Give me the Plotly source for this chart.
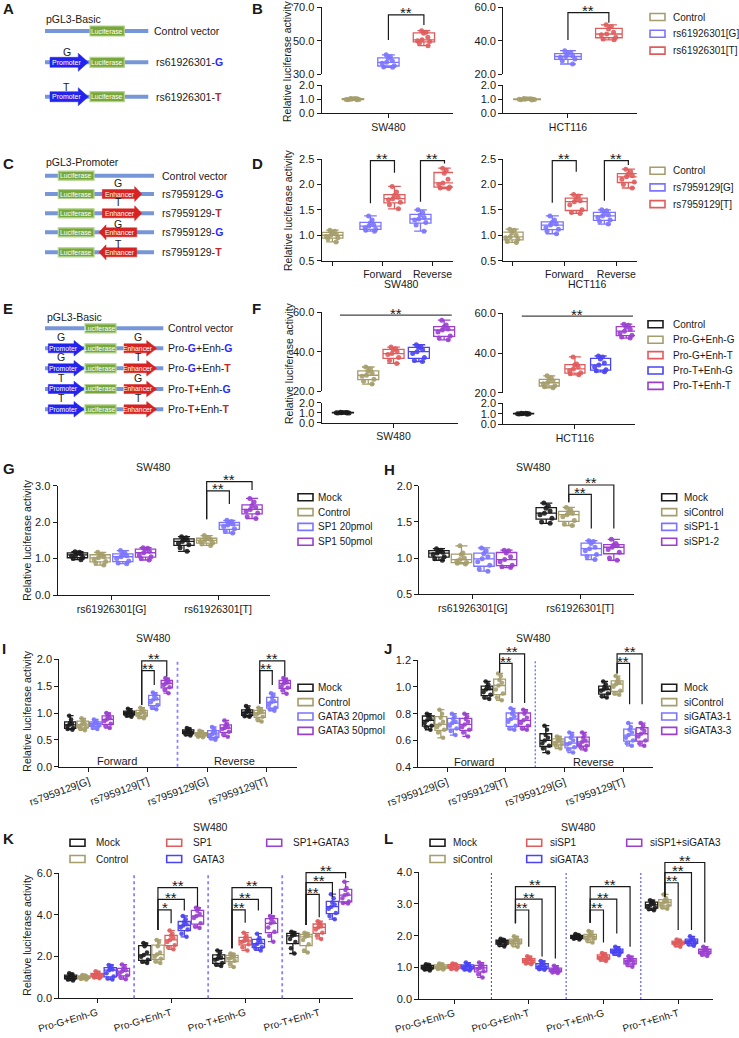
import plotly.graph_objects as go

W, H = 739, 1038

# ======================= DATA =======================
# ---- Panel B (rs61926301 promoter, SW480 / HCT116) ----
B_groups = ["Control", "rs61926301[G]", "rs61926301[T]"]
B_SW480_control = [0.95, 0.97, 1.0, 1.02, 1.05, 0.98, 1.03, 0.96, 1.04]
B_SW480_G = [41.5, 40.3, 39.5, 38.0, 37.0, 36.5, 35.0, 34.2, 34.0]
B_SW480_T = [56, 55, 54.5, 52, 50.5, 50, 49.5, 48.5, 47]
B_HCT116_control = [0.96, 0.99, 1.01, 1.03, 0.97, 1.0, 1.05, 0.94, 1.02]
B_HCT116_G = [34, 33, 32, 31, 30.5, 30, 29, 28, 26]
B_HCT116_T = [49.5, 48.5, 47, 45, 44, 43.5, 42, 41, 40.5]

# ---- Panel D (rs7959129 enhancer) ----
D_groups = ["Control", "rs7959129[G]", "rs7959129[T]"]
D_orient = ["", "Forward", "Reverse"]
D_SW480_control = [1.1, 1.08, 1.05, 1.02, 1.0, 0.98, 0.95, 0.93, 0.87]
D_SW480_G = [[1.38, 1.3, 1.24, 1.2, 1.18, 1.15, 1.12, 1.1, 1.08], [1.5, 1.45, 1.4, 1.35, 1.32, 1.3, 1.25, 1.2, 1.08]]
D_SW480_T = [[1.96, 1.85, 1.78, 1.75, 1.72, 1.7, 1.65, 1.6, 1.52], [2.32, 2.28, 2.22, 2.1, 2.03, 2.0, 1.95, 1.93, 1.92]]
D_HCT116_control = [1.12, 1.1, 1.05, 1.0, 0.97, 0.95, 0.92, 0.88, 0.86]
D_HCT116_G = [[1.38, 1.3, 1.25, 1.22, 1.2, 1.15, 1.12, 1.08, 1.03], [1.5, 1.48, 1.44, 1.4, 1.38, 1.35, 1.3, 1.27, 1.22]]
D_HCT116_T = [[1.8, 1.77, 1.72, 1.68, 1.66, 1.6, 1.5, 1.45, 1.43], [2.3, 2.25, 2.2, 2.17, 2.15, 2.1, 2.05, 2.0, 1.93]]

# ---- Panel F (promoter + enhancer combos) ----
F_groups = ["Control", "Pro-G+Enh-G", "Pro-G+Enh-T", "Pro-T+Enh-G", "Pro-T+Enh-T"]
F_SW480 = [[1.02, 0.98, 1.0, 1.04, 0.96, 1.01, 0.99, 1.03, 0.97],
           [32.2, 31, 30, 29, 28, 27.5, 26, 25, 23.5],
           [42.3, 41.5, 41, 40, 39, 38.5, 37, 35.5, 34],
           [43.5, 42.5, 42, 41, 40, 39, 37, 35.5, 35],
           [56, 53.5, 52.5, 51.5, 51, 50, 48, 47, 46]]
F_HCT116 = [[1.0, 0.97, 1.03, 0.99, 1.02, 0.95, 1.01, 0.98, 1.04],
            [28.5, 27.5, 26.5, 26, 25, 24.5, 23.5, 23, 22.5],
            [38, 34.5, 34, 33, 32, 31, 30, 29.5, 29],
            [38.5, 38, 37, 35, 34, 33, 31.5, 31, 30.5],
            [54.5, 54, 53, 52, 51, 50, 49, 48, 47.5]]

# ---- Panel G (SP1 overexpression) ----
G_categories = ["rs61926301[G]", "rs61926301[T]"]
G_series = ["Mock", "Control", "SP1 20pmol", "SP1 50pmol"]
G_mock = [[1.19, 1.17, 1.15, 1.12, 1.1, 1.07, 1.03, 1.0, 0.97], [1.6, 1.57, 1.53, 1.5, 1.47, 1.42, 1.38, 1.3, 1.2]]
G_control = [[1.17, 1.12, 1.1, 1.05, 1.02, 0.98, 0.92, 0.88, 0.82], [1.63, 1.58, 1.55, 1.52, 1.5, 1.47, 1.43, 1.4, 1.36]]
G_sp1_20 = [[1.22, 1.15, 1.12, 1.08, 1.05, 1.0, 0.93, 0.88, 0.86], [2.05, 2.02, 1.98, 1.95, 1.92, 1.88, 1.82, 1.75, 1.7]]
G_sp1_50 = [[1.3, 1.28, 1.25, 1.2, 1.16, 1.1, 1.05, 1.0, 0.96], [2.65, 2.55, 2.45, 2.4, 2.35, 2.3, 2.25, 2.15, 2.1]]

# ---- Panel H (SP1 knockdown) ----
H_categories = ["rs61926301[G]", "rs61926301[T]"]
H_series = ["Mock", "siControl", "siSP1-1", "siSP1-2"]
H_mock = [[1.13, 1.11, 1.1, 1.08, 1.07, 1.05, 1.02, 0.99, 0.97], [1.76, 1.72, 1.69, 1.65, 1.62, 1.6, 1.55, 1.5, 1.48]]
H_sicontrol = [[1.17, 1.07, 1.05, 1.0, 0.98, 0.96, 0.94, 0.93, 0.92], [1.7, 1.66, 1.64, 1.62, 1.6, 1.57, 1.52, 1.47, 1.45]]
H_sisp1_1 = [[1.14, 1.1, 1.06, 1.02, 0.99, 0.95, 0.9, 0.85, 0.82], [1.24, 1.23, 1.2, 1.15, 1.13, 1.1, 1.05, 1.02, 0.98]]
H_sisp1_2 = [[1.11, 1.1, 1.07, 1.02, 0.98, 0.95, 0.9, 0.88, 0.87], [1.26, 1.2, 1.18, 1.17, 1.15, 1.12, 1.08, 1.0, 0.97]]

# ---- Panel I (GATA3 overexpression) ----
I_categories = ["rs7959129[G]", "rs7959129[T]", "rs7959129[G]", "rs7959129[T]"]
I_series = ["Mock", "Control", "GATA3 20pmol", "GATA3 50pmol"]
I_mock = [[0.95, 0.88, 0.82, 0.8, 0.78, 0.76, 0.72, 0.7, 0.69], [1.08, 1.05, 1.03, 1.01, 1.0, 0.99, 0.97, 0.95, 0.93],
          [0.72, 0.7, 0.68, 0.66, 0.65, 0.64, 0.62, 0.6, 0.58], [1.13, 1.08, 1.05, 1.03, 1.01, 0.99, 0.96, 0.94, 0.93]]
I_control = [[0.9, 0.87, 0.84, 0.8, 0.78, 0.76, 0.73, 0.7, 0.68], [1.1, 1.07, 1.04, 1.02, 1.0, 0.98, 0.95, 0.92, 0.9],
             [0.67, 0.65, 0.63, 0.62, 0.61, 0.6, 0.58, 0.56, 0.55], [1.1, 1.07, 1.04, 1.02, 1.0, 0.97, 0.93, 0.88, 0.84]]
I_gata3_20 = [[0.88, 0.85, 0.83, 0.81, 0.8, 0.78, 0.76, 0.72, 0.7], [1.38, 1.35, 1.32, 1.27, 1.25, 1.2, 1.15, 1.1, 1.07],
              [0.74, 0.7, 0.66, 0.63, 0.61, 0.58, 0.55, 0.53, 0.5], [1.37, 1.33, 1.28, 1.22, 1.2, 1.15, 1.1, 1.07, 1.04]]
I_gata3_50 = [[1.0, 0.97, 0.94, 0.9, 0.88, 0.85, 0.8, 0.76, 0.72], [1.65, 1.62, 1.6, 1.57, 1.55, 1.52, 1.48, 1.43, 1.37],
              [0.86, 0.8, 0.77, 0.74, 0.72, 0.7, 0.65, 0.6, 0.56], [1.65, 1.62, 1.6, 1.57, 1.55, 1.5, 1.47, 1.42, 1.36]]

# ---- Panel J (GATA3 knockdown) ----
J_categories = ["rs7959129[G]", "rs7959129[T]", "rs7959129[G]", "rs7959129[T]"]
J_series = ["Mock", "siControl", "siGATA3-1", "siGATA3-3"]
J_mock = [[0.8, 0.79, 0.78, 0.76, 0.75, 0.73, 0.71, 0.7, 0.68], [1.04, 1.02, 1.0, 0.99, 0.98, 0.96, 0.94, 0.92, 0.91],
          [0.71, 0.68, 0.64, 0.62, 0.6, 0.58, 0.56, 0.54, 0.51], [1.04, 1.02, 1.0, 0.99, 0.98, 0.97, 0.95, 0.93, 0.92]]
J_sicontrol = [[0.83, 0.8, 0.77, 0.74, 0.72, 0.7, 0.68, 0.66, 0.62], [1.1, 1.08, 1.05, 1.03, 1.01, 0.98, 0.95, 0.92, 0.9],
               [0.63, 0.62, 0.61, 0.6, 0.59, 0.58, 0.57, 0.56, 0.54], [1.08, 1.06, 1.04, 1.03, 1.02, 1.0, 0.97, 0.95, 0.94]]
J_sigata3_1 = [[0.8, 0.78, 0.76, 0.74, 0.73, 0.71, 0.69, 0.67, 0.64], [0.84, 0.82, 0.8, 0.78, 0.76, 0.74, 0.71, 0.69, 0.68],
               [0.66, 0.64, 0.62, 0.6, 0.58, 0.57, 0.55, 0.53, 0.51], [0.73, 0.7, 0.68, 0.66, 0.64, 0.62, 0.6, 0.58, 0.56]]
J_sigata3_3 = [[0.8, 0.78, 0.76, 0.74, 0.72, 0.7, 0.68, 0.66, 0.63], [0.83, 0.82, 0.8, 0.77, 0.75, 0.73, 0.71, 0.69, 0.68],
               [0.66, 0.64, 0.62, 0.6, 0.59, 0.57, 0.56, 0.55, 0.53], [0.73, 0.71, 0.69, 0.67, 0.65, 0.63, 0.6, 0.58, 0.56]]

# ---- Panel K (SP1 / GATA3 overexpression) ----
K_categories = ["Pro-G+Enh-G", "Pro-G+Enh-T", "Pro-T+Enh-G", "Pro-T+Enh-T"]
K_series = ["Mock", "Control", "SP1", "GATA3", "SP1+GATA3"]
K_mock = [[1.2, 1.15, 1.1, 1.06, 1.04, 1.0, 0.95, 0.9, 0.85], [2.65, 2.6, 2.5, 2.2, 2.08, 2.0, 1.85, 1.75, 1.7],
          [2.3, 2.2, 2.05, 1.95, 1.9, 1.85, 1.7, 1.62, 1.55], [3.2, 3.15, 3.1, 3.05, 3.0, 2.85, 2.7, 2.4, 2.15]]
K_control = [[1.12, 1.1, 1.06, 1.03, 1.0, 0.98, 0.96, 0.93, 0.9], [2.8, 2.7, 2.5, 2.2, 2.1, 2.0, 1.9, 1.78, 1.7],
             [2.15, 2.1, 2.05, 2.0, 1.95, 1.9, 1.8, 1.65, 1.5], [3.15, 3.1, 3.05, 3.0, 2.95, 2.8, 2.6, 2.3, 2.2]]
K_sp1 = [[1.3, 1.22, 1.18, 1.14, 1.12, 1.08, 1.04, 1.0, 0.96], [3.25, 3.1, 3.0, 2.9, 2.8, 2.7, 2.55, 2.45, 2.35],
         [3.15, 3.0, 2.9, 2.8, 2.75, 2.7, 2.6, 2.45, 2.3], [3.7, 3.62, 3.55, 3.45, 3.4, 3.3, 3.15, 3.0, 2.85]]
K_gata3 = [[1.6, 1.55, 1.45, 1.38, 1.35, 1.2, 1.05, 0.95, 0.9], [3.95, 3.8, 3.65, 3.55, 3.5, 3.4, 3.3, 3.1, 2.95],
           [3.1, 2.9, 2.8, 2.7, 2.62, 2.55, 2.45, 2.38, 2.3], [5.0, 4.8, 4.6, 4.5, 4.4, 4.3, 4.1, 3.95, 3.8]]
K_sp1_gata3 = [[1.62, 1.5, 1.42, 1.35, 1.3, 1.2, 1.1, 1.0, 0.92], [4.35, 4.3, 4.2, 4.05, 3.95, 3.85, 3.6, 3.45, 3.38],
               [3.95, 3.9, 3.8, 3.65, 3.6, 3.4, 3.2, 3.0, 2.72], [5.6, 5.3, 5.2, 5.0, 4.95, 4.8, 4.65, 4.58, 4.55]]

# ---- Panel L (SP1 / GATA3 knockdown) ----
L_categories = ["Pro-G+Enh-G", "Pro-G+Enh-T", "Pro-T+Enh-G", "Pro-T+Enh-T"]
L_series = ["Mock", "siControl", "siSP1", "siGATA3", "siSP1+siGATA3"]
L_mock = [[1.1, 1.08, 1.05, 1.02, 1.0, 0.98, 0.96, 0.93, 0.9], [1.9, 1.87, 1.85, 1.82, 1.8, 1.77, 1.74, 1.7, 1.66],
          [2.05, 2.02, 2.0, 1.98, 1.96, 1.94, 1.92, 1.9, 1.88], [3.12, 3.08, 3.05, 3.0, 2.97, 2.93, 2.88, 2.83, 2.8]]
L_sicontrol = [[1.12, 1.1, 1.07, 1.04, 1.02, 1.0, 0.97, 0.95, 0.93], [1.98, 1.93, 1.88, 1.85, 1.83, 1.8, 1.76, 1.72, 1.65],
               [2.15, 2.08, 2.03, 2.0, 1.97, 1.94, 1.9, 1.85, 1.78], [3.3, 3.18, 3.12, 3.08, 3.05, 3.0, 2.95, 2.9, 2.85]]
L_sisp1 = [[1.12, 1.1, 1.08, 1.05, 1.03, 1.0, 0.98, 0.95, 0.93], [1.35, 1.3, 1.27, 1.24, 1.22, 1.2, 1.16, 1.12, 1.1],
           [1.45, 1.42, 1.38, 1.35, 1.32, 1.3, 1.27, 1.24, 1.2], [1.88, 1.85, 1.82, 1.8, 1.78, 1.76, 1.74, 1.7, 1.65]]
L_sigata3 = [[1.15, 1.1, 1.07, 1.04, 1.02, 1.0, 0.96, 0.93, 0.9], [1.2, 1.15, 1.1, 1.06, 1.03, 1.0, 0.97, 0.94, 0.92],
             [1.65, 1.6, 1.57, 1.55, 1.52, 1.5, 1.47, 1.43, 1.38], [1.98, 1.92, 1.88, 1.85, 1.83, 1.8, 1.77, 1.73, 1.68]]
L_sisp1_sigata3 = [[1.15, 1.1, 1.05, 1.0, 0.98, 0.95, 0.88, 0.78, 0.68], [1.05, 1.0, 0.97, 0.94, 0.92, 0.9, 0.87, 0.84, 0.82],
                   [1.35, 1.3, 1.26, 1.22, 1.2, 1.17, 1.12, 1.08, 1.02], [1.65, 1.6, 1.56, 1.52, 1.5, 1.47, 1.44, 1.4, 1.36]]

# ---- axis tick values ----
B_low_ticks = [0, 1, 2]
B_SW480_up_ticks = [30, 50, 70]
B_HCT116_up_ticks = [20, 40, 60]
D_ticks = [0.5, 1.0, 1.5, 2.0, 2.5]
F_low_ticks = [0, 1, 2]
F_up_ticks = [20, 40, 60]
G_ticks = [0, 1, 2, 3]
H_ticks = [0.5, 1.0, 1.5, 2.0]
I_ticks = [0, 0.5, 1.0, 1.5, 2.0]
J_ticks = [0.4, 0.6, 0.8, 1.0, 1.2]
K_ticks = [0, 2, 4, 6]
L_ticks = [0, 1, 2, 3, 4]

# ======================= STYLE / HELPERS =======================
FONT = "Liberation Sans, Arial, sans-serif"
INK = "#1a1a1a"
BLACK = "#1c1c1c"
OLIVE = "#a59d6b"
LBLUE = "#7b74ff"
BLUE = "#4a44f2"
RED = "#e05c5c"
PURPLE = "#9b3fd0"
ALLELE_G = "#2a2aff"
ALLELE_T = "#c0282a"


def px(x):
    return x / W


def py(y):
    return 1 - y / H


fig = go.Figure()
layout = dict(width=W, height=H, margin=dict(l=0, r=0, t=0, b=0, pad=0, autoexpand=False), autosize=False,
              paper_bgcolor="white", plot_bgcolor="rgba(0,0,0,0)", showlegend=False,
              font=dict(family=FONT, color=INK), boxmode="overlay")
shapes = []
annotations = []
cnt = {"x": 0, "y": 0}


def nid(letter):
    cnt[letter] += 1
    n = cnt[letter]
    s = "" if n == 1 else str(n)
    return letter + "axis" + s, letter + s


AX = dict(showline=True, linecolor=INK, linewidth=1.2, ticks="outside", ticklen=4, tickwidth=1.2,
          tickcolor=INK, showgrid=False, zeroline=False, fixedrange=True, automargin=False)


def make_plot(left, right, segments, xrange, xtickvals, xticktext, tickangle=0, xfont=10.5):
    xname, xid = nid("x")
    ys = []
    for top, bottom, yr, yt in segments:
        yname, yid = nid("y")
        ys.append((yid, yr))
        layout[yname] = dict(AX, domain=[py(bottom), py(top)], range=[yr[0] - 1e-6, yr[1] + 1e-6],
                             tickmode="array", tickvals=yt, ticktext=[f"{v:.1f}" for v in yt],
                             anchor=xid, type="linear", tickfont=dict(size=11, color=INK))
    layout[xname] = dict(AX, domain=[px(left), px(right)], range=xrange, anchor=ys[0][0], type="linear",
                         tickmode="array", tickvals=xtickvals, ticktext=xticktext, tickangle=tickangle,
                         tickfont=dict(size=xfont, color=INK))
    return xid, ys


def box(xid, yid, pos, vals, color, width, msize=5):
    fig.add_trace(go.Box(x=[pos] * len(vals), y=vals, xaxis=xid, yaxis=yid, width=width,
                         boxpoints="all", pointpos=0, jitter=0.75, whiskerwidth=0.6,
                         marker=dict(color=color, size=msize, opacity=0.9, line=dict(width=0)),
                         line=dict(color=color, width=1.3), fillcolor="rgba(255,255,255,0)",
                         showlegend=False, hoverinfo="y"))


def gpos(ci, k, n, step):
    return ci + (k - (n - 1) / 2) * step


def grouped(xid, yid, series_vals, colors, step, width, msize=5):
    n = len(series_vals)
    for k, (vals, col) in enumerate(zip(series_vals, colors)):
        for ci, v in enumerate(vals):
            box(xid, yid, gpos(ci, k, n, step), v, col, width, msize)


def dom(v, yr):
    return (v - yr[0]) / (yr[1] - yr[0])


def bracket(xid, yax, x1, x2, top, leg1, leg2, label="**"):
    yid, yr = yax
    path = (f"M{x1},{dom(leg1, yr)} L{x1},{dom(top, yr)} L{x2},{dom(top, yr)} L{x2},{dom(leg2, yr)}")
    shapes.append(dict(type="path", path=path, xref=xid, yref=f"{yid} domain",
                       line=dict(color=INK, width=1.2)))
    annotations.append(dict(x=(x1 + x2) / 2, y=dom(top, yr), xref=xid, yref=f"{yid} domain", text=label,
                            showarrow=False, yanchor="middle", yshift=2, borderpad=0,
                            font=dict(size=15, color=INK)))


def hline_data(xid, yax, x1, x2, yv, label="**"):
    yid, yr = yax
    shapes.append(dict(type="line", xref=xid, yref=f"{yid} domain", x0=x1, x1=x2,
                       y0=dom(yv, yr), y1=dom(yv, yr), line=dict(color="#444", width=1.3)))
    annotations.append(dict(x=(x1 + x2) / 2, y=dom(yv, yr), xref=xid, yref=f"{yid} domain", text=label,
                            showarrow=False, yanchor="middle", yshift=2, borderpad=0,
                            font=dict(size=15, color=INK)))


def divider(xid, yid, xv, color, dash, width=1.4):
    shapes.append(dict(type="line", xref=xid, yref=f"{yid} domain", x0=xv, x1=xv, y0=0, y1=1,
                       line=dict(color=color, width=width, dash=dash)))


def txt(x, y, s, size=10.5, color=INK, xanchor="left", yanchor="middle", angle=0):
    annotations.append(dict(x=px(x), y=py(y), xref="paper", yref="paper", text=s, showarrow=False,
                            xanchor=xanchor, yanchor=yanchor, textangle=angle, borderpad=0,
                            font=dict(size=size, color=color, family=FONT)))


def legend_item(xs, y, name, color, xt):
    shapes.append(dict(type="rect", xref="paper", yref="paper", x0=px(xs), x1=px(xs + 15),
                       y0=py(y + 3.5), y1=py(y - 3.5), line=dict(color=color, width=1.6),
                       fillcolor="rgba(0,0,0,0)"))
    txt(xt, y, name, size=10)


def vlegend(names, colors, xs, y0, dy, xt):
    for i, (nm, c) in enumerate(zip(names, colors)):
        legend_item(xs, y0 + i * dy, nm, c, xt)


def letter(x, y, s):
    txt(x, y, f"<b>{s}</b>", size=15, xanchor="left")


def ytitle(x, y):
    txt(x, y, "Relative luciferase activity", size=10.5, xanchor="center", angle=-90)


# ---- schematic helpers ----
LINE_C = "#7796d8"
LUC_F = "#78a83c"
LUC_L = "#b3d38e"
PRO_C = "#2323ee"
ENH_C = "#d82323"


def dna(x0, x1, y):
    shapes.append(dict(type="line", xref="paper", yref="paper", x0=px(x0), x1=px(x1), y0=py(y), y1=py(y),
                       line=dict(color=LINE_C, width=4)))


def luc(x0, x1, y, h=10):
    shapes.append(dict(type="rect", xref="paper", yref="paper", x0=px(x0), x1=px(x1),
                       y0=py(y + h / 2), y1=py(y - h / 2), fillcolor=LUC_F, line=dict(color=LUC_L, width=1.2)))
    txt((x0 + x1) / 2, y, "Luciferase", size=6.8, color="white", xanchor="center")


def arrow(x0, x1, y, color, label, direction=1, hb=5, hh=9, hl=10, fs=7):
    if direction > 0:
        n = x1 - hl
        pts = [(x0, y - hb), (n, y - hb), (n, y - hh), (x1, y), (n, y + hh), (n, y + hb), (x0, y + hb)]
        cx = (x0 + x1) / 2 - 2.5
    else:
        n = x0 + hl
        pts = [(x1, y - hb), (n, y - hb), (n, y - hh), (x0, y), (n, y + hh), (n, y + hb), (x1, y + hb)]
        cx = (x0 + x1) / 2 + 2.5
    path = "M" + " L".join(f"{px(a):.5f},{py(b):.5f}" for a, b in pts) + " Z"
    shapes.append(dict(type="path", path=path, xref="paper", yref="paper", fillcolor=color,
                       line=dict(color=color, width=0.5)))
    txt(cx, y, label, size=fs, color="white", xanchor="center")


def allele(a):
    c = ALLELE_G if a == "G" else ALLELE_T
    return f"<b><span style='color:{c}'>{a}</span></b>"


# ======================= SCHEMATIC A =======================
letter(2, 9, "A")
txt(45, 19.3, "pGL3-Basic")
dna(45, 148.3, 31)
luc(90, 124.3, 31)
txt(153.3, 31, "Control vector")
for y, a in [(62.3, "G"), (96.7, "T")]:
    dna(45, 148.3, y)
    arrow(50, 88.3, y, PRO_C, "Promoter")
    luc(90, 124.3, y)
    txt(66.7, y - 10, a, xanchor="center")
    txt(155, y, "rs61926301-" + allele(a))

# ======================= SCHEMATIC C =======================
letter(2, 163, "C")
txt(45, 162.3, "pGL3-Promoter")
dna(45, 154, 175.7)
luc(58.3, 94, 175.7, h=9)
txt(160.7, 175.7, "Control vector")
for y, a, d, dy in [(194, "G", 1, 11.3), (213.3, "T", 1, 11), (232.3, "G", -1, 8.5), (252.3, "T", -1, 8.5)]:
    dna(45, 154, y)
    luc(58.3, 94, y, h=9)
    if d > 0:
        arrow(102.3, 141.7, y, ENH_C, "Enhancer", 1, hb=4.5, hh=7.5, hl=7, fs=6.8)
    else:
        arrow(99, 136.7, y, ENH_C, "Enhancer", -1, hb=4.5, hh=7.5, hl=7, fs=6.8)
    txt(118.3, y - dy, a, xanchor="center")
    txt(160.7, y, "rs7959129-" + allele(a))

# ======================= SCHEMATIC E =======================
letter(2, 309, "E")
txt(45.7, 317.3, "pGL3-Basic")
dna(45, 163.3, 328.3)
luc(85, 116, 328.3, h=9)
txt(166.7, 328.3, "Control vector")
for y, pa, ea in [(348.3, "G", "G"), (368.3, "G", "T"), (389, "T", "G"), (409.3, "T", "T")]:
    dna(45, 163.3, y)
    arrow(48.3, 84, y, PRO_C, "Promoter", 1, hb=4.5, hh=7.8, hl=10, fs=6.8)
    luc(85, 116, y, h=9)
    arrow(124, 156.7, y, ENH_C, "Enhancer", 1, hb=4.5, hh=7.8, hl=10, fs=6.8)
    txt(61, y - 11, pa, xanchor="center")
    txt(138.3, y - 11, ea, xanchor="center")
    txt(166.7, y, "Pro-" + allele(pa) + "+Enh-" + allele(ea))

# ======================= PANEL B =======================
letter(251, 9, "B")
ytitle(287, 61)
xid, ys = make_plot(321.7, 453, [(85, 113.3, [0, 2], B_low_ticks), (7.3, 74, [30, 70], B_SW480_up_ticks)],
                    [-0.88, 2.82], [1], ["SW480"])
box(xid, ys[0][0], 0, B_SW480_control, OLIVE, 0.6)
box(xid, ys[1][0], 1, B_SW480_G, LBLUE, 0.6)
box(xid, ys[1][0], 2, B_SW480_T, RED, 0.6)
bracket(xid, ys[1], 1, 2, 65.4, 50.4, 59.4)

xid, ys = make_plot(503.3, 636.7, [(85, 113.3, [0, 2], B_low_ticks), (7.3, 74, [20, 60], B_HCT116_up_ticks)],
                    [-0.58, 2.68], [1], ["HCT116"])
box(xid, ys[0][0], 0, B_HCT116_control, OLIVE, 0.65)
box(xid, ys[1][0], 1, B_HCT116_G, LBLUE, 0.65)
box(xid, ys[1][0], 2, B_HCT116_T, RED, 0.65)
bracket(xid, ys[1], 1, 2, 56.8, 40.4, 50.8)
vlegend(B_groups, [OLIVE, LBLUE, RED], 650, 17, 16.8, 672)

# ======================= PANEL D =======================
letter(251, 163, "D")
ytitle(288, 210)
for (left, right, xr, d, ctrl, gv, tv, brk, name, nx) in [
        (321.7, 453, [-0.214, 2.41], 0.24, D_SW480_control, D_SW480_G, D_SW480_T,
         [(2.47, 1.63, 2.23), (2.47, 1.66, 2.41)], "SW480", 401.7),
        (503.3, 636.7, [-0.17, 2.39], 0.23, D_HCT116_control, D_HCT116_G, D_HCT116_T,
         [(2.47, 1.64, 2.25), (2.47, 1.68, 2.38)], "HCT116", 587)]:
    xid, ys = make_plot(left, right, [(159, 260.7, [0.5, 2.5], D_ticks)], xr, [0, 1, 2], D_orient)
    yid = ys[0][0]
    box(xid, yid, 0, ctrl, OLIVE, 0.42)
    for ci in range(2):
        box(xid, yid, ci + 1 - d, gv[ci], LBLUE, 0.42)
        box(xid, yid, ci + 1 + d, tv[ci], RED, 0.42)
        top, l1, l2 = brk[ci]
        bracket(xid, ys[0], ci + 1 - d, ci + 1 + d, top, l1, l2)
    txt(nx, 284, name, xanchor="center")
vlegend(D_groups, [OLIVE, LBLUE, RED], 650, 170.7, 16.7, 672)

# ======================= PANEL F =======================
letter(251, 308, "F")
ytitle(289, 363)
F_colors = [BLACK, OLIVE, RED, BLUE, PURPLE]
for (left, right, low, up, xr, vals, wdt, line_x, name) in [
        (321.7, 458.3, (402.7, 422.7), (312.3, 391), [-0.84, 4.56], F_SW480, 0.83, (-0.12, 4.3), "SW480"),
        (503.3, 635, (403.3, 424), (313.3, 392.7), [-0.79, 4.34], F_HCT116, 0.78, (-0.07, 4.26), "HCT116")]:
    xid, ys = make_plot(left, right, [(low[0], low[1], [0, 2], F_low_ticks), (up[0], up[1], [20, 60], F_up_ticks)],
                        xr, [2], [name])
    box(xid, ys[0][0], 0, vals[0], F_colors[0], wdt)
    for k in range(1, 5):
        box(xid, ys[1][0], k, vals[k], F_colors[k], wdt)
    hline_data(xid, ys[1], line_x[0], line_x[1], 58.6)
vlegend(F_groups, F_colors, 648, 324.3, 15.4, 672)

# ======================= PANEL G =======================
letter(2, 468, "G")
txt(153, 467, "SW480", xanchor="center")
ytitle(26.7, 540)
G_colors = [BLACK, OLIVE, LBLUE, PURPLE]
xid, ys = make_plot(57.7, 270, [(485.7, 595, [0, 3], G_ticks)], [-0.505, 1.488], [0, 1], G_categories)
grouped(xid, ys[0][0], [G_mock, G_control, G_sp1_20, G_sp1_50], G_colors, 0.213, 0.19)
bracket(xid, ys[0], gpos(1, 1, 4, 0.213), gpos(1, 2, 4, 0.213), 2.86, 2.08, 2.5)
bracket(xid, ys[0], gpos(1, 1, 4, 0.213), gpos(1, 3, 4, 0.213), 3.11, 2.08, 2.88)
vlegend(G_series, G_colors, 298, 497.3, 14.8, 317)

# ======================= PANEL H =======================
letter(383, 469, "H")
txt(533, 467, "SW480", xanchor="center")
H_colors = [BLACK, OLIVE, LBLUE, PURPLE]
xid, ys = make_plot(419.3, 634, [(485.7, 594.3, [0.5, 2.0], H_ticks)], [-0.498, 1.503], [0, 1], H_categories)
grouped(xid, ys[0][0], [H_mock, H_sicontrol, H_sisp1_1, H_sisp1_2], H_colors, 0.21, 0.19)
bracket(xid, ys[0], gpos(1, 1, 4, 0.21), gpos(1, 2, 4, 0.21), 1.88, 1.77, 1.41)
bracket(xid, ys[0], gpos(1, 1, 4, 0.21), gpos(1, 3, 4, 0.21), 2.01, 1.77, 1.41)
vlegend(H_series, H_colors, 661.7, 497.3, 14.8, 683.3)

# ======================= PANEL I =======================
letter(1, 648, "I")
txt(153, 638, "SW480", xanchor="center")
ytitle(26.7, 711)
I_colors = [BLACK, OLIVE, LBLUE, PURPLE]
xid, ys = make_plot(59.3, 296.7, [(659.3, 766.7, [0, 2], I_ticks)], [-0.503, 3.52], [0, 1, 2, 3], I_categories,
                    tickangle=-20)
yid = ys[0][0]
divider(xid, yid, 1.5, "#8a80ff", "dot", 1.8)
grouped(xid, yid, [I_mock, I_control, I_gata3_20, I_gata3_50], I_colors, 0.212, 0.19, 4.5)
for ci, l1 in [(1, 1.15), (3, 1.17)]:
    bracket(xid, ys[0], gpos(ci, 1, 4, 0.212), gpos(ci, 2, 4, 0.212), 1.79, l1, 1.52)
    bracket(xid, ys[0], gpos(ci, 1, 4, 0.212), gpos(ci, 3, 4, 0.212), 1.97, l1, 1.68)
for xv, s in [(0.47, "Forward"), (2.47, "Reverse")]:
    annotations.append(dict(x=xv, y=0.11, xref=xid, yref=yid, text=s, showarrow=False,
                            font=dict(size=11, color=INK)))
vlegend(I_series, I_colors, 298, 687.7, 14.4, 316.7)

# ======================= PANEL J =======================
letter(383, 648, "J")
txt(533, 638, "SW480", xanchor="center")
J_colors = [BLACK, OLIVE, LBLUE, PURPLE]
xid, ys = make_plot(418.3, 653.3, [(660, 767.3, [0.4, 1.2], J_ticks)], [-0.49, 3.51], [0, 1, 2, 3], J_categories,
                    tickangle=-20)
yid = ys[0][0]
divider(xid, yid, 1.5, "#3b3bff", "2px,2px", 1.0)
grouped(xid, yid, [J_mock, J_sicontrol, J_sigata3_1, J_sigata3_3], J_colors, 0.213, 0.2, 4.5)
for ci, l1, r in [(1, 1.106, 0.88), (3, 1.1, 0.87)]:
    bracket(xid, ys[0], gpos(ci, 1, 4, 0.213), gpos(ci, 2, 4, 0.213), 1.175, l1, r)
    bracket(xid, ys[0], gpos(ci, 1, 4, 0.213), gpos(ci, 3, 4, 0.213), 1.245, l1, r)
for xv, s in [(0.46, "Forward"), (2.49, "Reverse")]:
    annotations.append(dict(x=xv, y=0.442, xref=xid, yref=yid, text=s, showarrow=False,
                            font=dict(size=11, color=INK)))
vlegend(J_series, J_colors, 661.7, 687.7, 14.4, 683.3)

# ======================= PANEL K =======================
letter(2, 838, "K")
txt(210, 826.7, "SW480", xanchor="center")
ytitle(26.7, 935)
K_colors = [BLACK, OLIVE, RED, BLUE, PURPLE]
xid, ys = make_plot(59.3, 353.3, [(873.3, 998.3, [0, 6], K_ticks)], [-0.51, 3.46], [0, 1, 2, 3], K_categories,
                    tickangle=-16, xfont=10)
yid = ys[0][0]
for xv in (0.5, 1.5, 2.5):
    divider(xid, yid, xv, "#8a80ff", "dot", 1.8)
grouped(xid, yid, [K_mock, K_control, K_sp1, K_gata3, K_sp1_gata3], K_colors, 0.178, 0.165, 4.5)
K_brackets = [(1, [(4.24, 3.28, 3.6, "*"), (4.75, 3.28, 4.21, "**"), (5.31, 3.28, 4.4, "**")]),
              (2, [(4.24, 2.4, 3.63, "**"), (4.75, 2.4, 4.21, "**"), (5.31, 2.4, 4.05, "**")]),
              (3, [(4.99, 3.52, 3.89, "**"), (5.55, 3.52, 4.85, "**"), (6.03, 3.52, 5.76, "**")])]
for ci, lst in K_brackets:
    for j, (top, l1, l2, lab) in enumerate(lst):
        bracket(xid, ys[0], gpos(ci, 1, 5, 0.178), gpos(ci, 2 + j, 5, 0.178), top, l1, l2, lab)
for (xs, y, i) in [(70, 842.7, 0), (70, 859, 1), (166.7, 842.7, 2), (166.7, 859, 3), (266.7, 842.7, 4)]:
    legend_item(xs, y, K_series[i], K_colors[i], xs + 25)

# ======================= PANEL L =======================
letter(383, 838, "L")
txt(578.3, 826.7, "SW480", xanchor="center")
L_colors = [BLACK, OLIVE, RED, BLUE, PURPLE]
xid, ys = make_plot(419.3, 713.3, [(872.3, 999, [0, 4], L_ticks)], [-0.465, 3.47], [0, 1, 2, 3], L_categories,
                    tickangle=-16, xfont=10)
yid = ys[0][0]
for xv in (0.5, 1.5, 2.5):
    divider(xid, yid, xv, "#3b3bff", "2px,2px", 1.0)
grouped(xid, yid, [L_mock, L_sicontrol, L_sisp1, L_sigata3, L_sisp1_sigata3], L_colors, 0.178, 0.165, 4.5)
L_brackets = [(1, [(2.81, 2.39, 1.65), (3.15, 2.39, 1.34), (3.55, 2.39, 1.28)]),
              (2, [(2.81, 2.41, 1.78), (3.15, 2.41, 2.07), (3.55, 2.41, 1.65)]),
              (3, [(3.67, 3.23, 2.18), (3.99, 3.23, 2.18), (4.31, 3.23, 1.78)])]
for ci, lst in L_brackets:
    for j, (top, l1, l2) in enumerate(lst):
        bracket(xid, ys[0], gpos(ci, 1, 5, 0.178), gpos(ci, 2 + j, 5, 0.178), top, l1, l2)
for (xs, y, i) in [(430, 842.7, 0), (430, 859, 1), (526.7, 842.7, 2), (526.7, 859, 3), (626.7, 842.7, 4)]:
    legend_item(xs, y, L_series[i], L_colors[i], xs + 22)

layout["shapes"] = shapes
layout["annotations"] = annotations
fig.update_layout(layout)
fig.write_html("out.html", config={"displayModeBar": False},
               post_script="document.body.style.margin='0px';document.body.style.padding='0px';"
                           "document.body.style.overflow='hidden';")
